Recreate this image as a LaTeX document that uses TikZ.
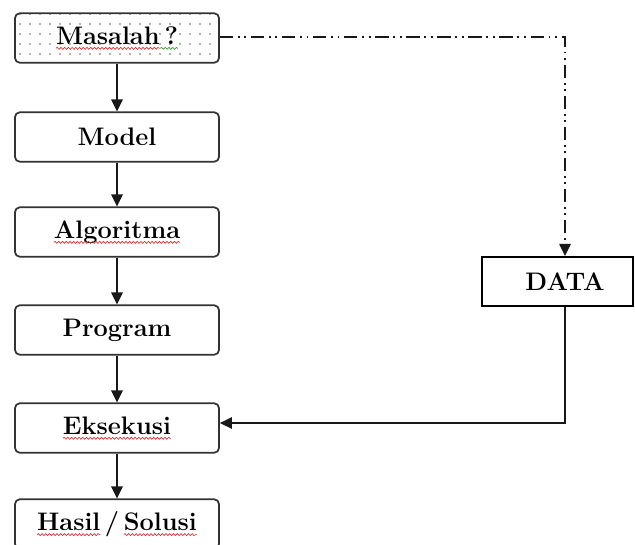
\documentclass[tikz,border=0pt]{standalone}
\usetikzlibrary{arrows.meta,patterns.meta,decorations.pathmorphing}
\definecolor{boxline}{HTML}{333333}
\definecolor{wavered}{HTML}{D03030}
\definecolor{wavegreen}{HTML}{3A9A3A}
\tikzset{
  stepbox/.style={draw=boxline, line width=1.3pt, rounded corners=3.5pt,
    minimum width=153pt, minimum height=37pt, inner sep=0pt},
  plainbox/.style={draw=black, line width=1.3pt,
    minimum width=113pt, minimum height=37pt, inner sep=0pt},
  steptext/.style={font=\fontsize{19}{22}\selectfont\bfseries, text=black, inner sep=0pt},
  flow/.style={draw=black!90, line width=1.2pt, -{Triangle[length=9pt,width=8.5pt]}},
  dataflow/.style={flow, dash pattern=on 10pt off 3.5pt on 1.4pt off 3.5pt on 1.4pt off 3.5pt},
  squiggle/.style={draw=#1, line width=0.5pt,
    decorate, decoration={snake, segment length=2.8pt, amplitude=0.75pt}},
}
% spell-check style wavy underline under a word
\newcommand\wavy[2][wavered]{\tikz[baseline=(w.base)]{%
  \node[inner sep=0pt, outer sep=0pt] (w) {#2};%
  \draw[squiggle=#1] ([yshift=-3.2pt]w.base west) -- ([yshift=-3.2pt]w.base east);}}
\begin{document}
\begin{tikzpicture}[x=0.75pt, y=-0.75pt]
\useasboundingbox (0,0) rectangle (635,544);

% left column of steps
\node[stepbox, pattern={Dots[distance=7.5pt, radius=0.6pt]}, pattern color=black!60] (masalahbox) at (117,38) {};
\node[stepbox] (modelbox)     at (117,137) {};
\node[stepbox] (algobox)      at (117,232) {};
\node[stepbox] (programbox)   at (117,330) {};
\node[stepbox] (eksekusibox)  at (117,428) {};
\node[stepbox] (hasilbox)     at (117,524) {};

\node[steptext] (masalah)  at (masalahbox)  {\wavy{Masalah}\wavy[wavegreen]{\,?}};
\node[steptext] (model)    at (modelbox)    {Model};
\node[steptext] (algo)     at (algobox)     {\wavy{Algoritma}};
\node[steptext] (program)  at (programbox)  {Program};
\node[steptext] (eksekusi) at (eksekusibox) {\wavy{Eksekusi}};
\node[steptext] (hasil)    at (hasilbox)    {\wavy{Hasil}\,/\,\wavy{Solusi}};

% data box on the right
\node[plainbox] (databox) at (557.5,281.5) {};
\node[steptext] (data) at (565,281.5) {DATA};

% main flow
\draw[flow] (masalahbox) -- (modelbox);
\draw[flow] (modelbox) -- (algobox);
\draw[flow] (algobox) -- (programbox);
\draw[flow] (programbox) -- (eksekusibox);
\draw[flow] (eksekusibox) -- (hasilbox);

% data supply
\draw[dataflow] ([yshift=0.75pt]masalahbox.east) -| (data |- databox.north);
\draw[flow] (data |- databox.south) |- ([yshift=3.75pt]eksekusibox.east);
\end{tikzpicture}
\end{document}
